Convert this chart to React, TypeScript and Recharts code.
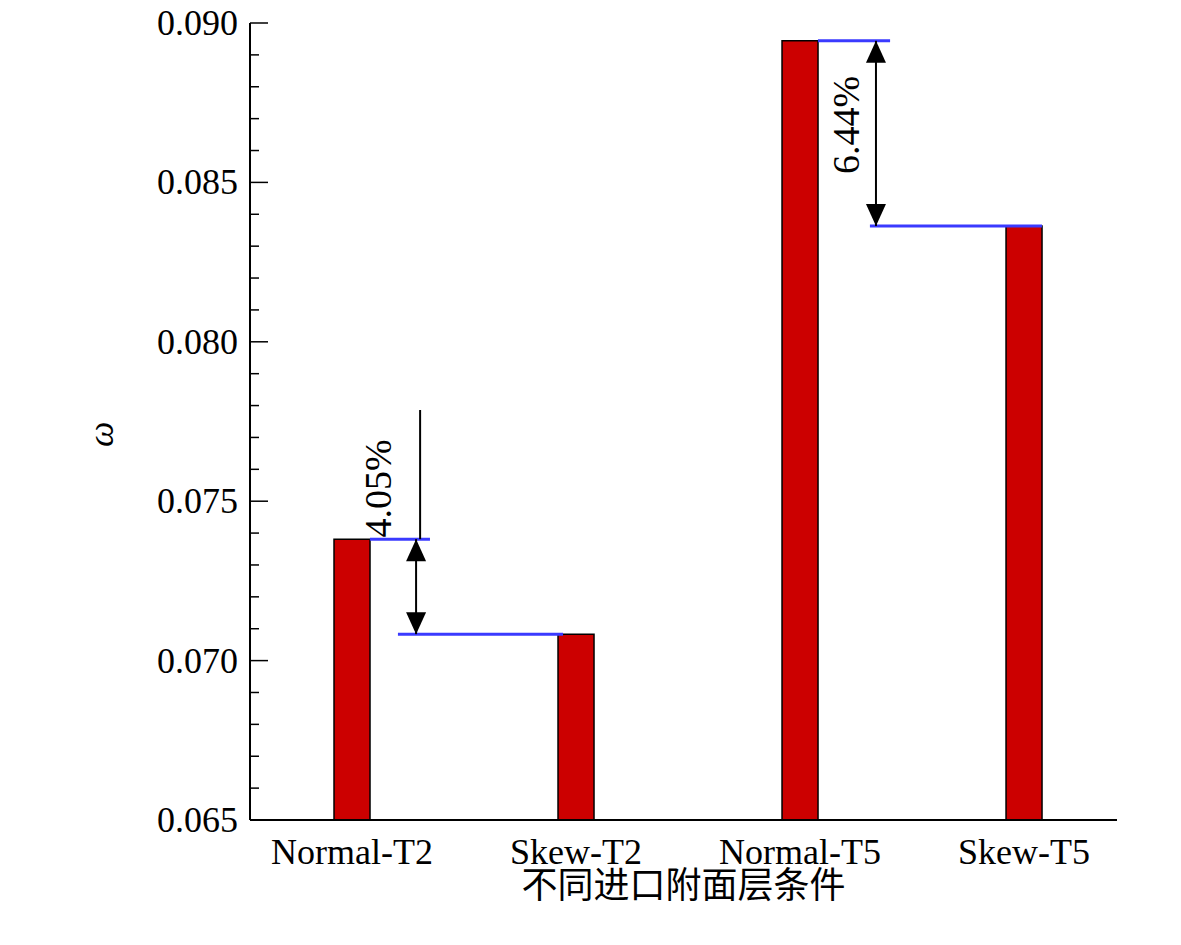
import { Bar, ComposedChart, ReferenceDot, ReferenceLine, XAxis, YAxis, Label } from 'recharts'

const categories = ['Normal-T2', 'Skew-T2', 'Normal-T5', 'Skew-T5']
const positions = [1, 2, 3, 4]
const omega = [0.07381, 0.07083, 0.08944, 0.08363]
const majorTicks = [0.065, 0.07, 0.075, 0.08, 0.085, 0.09]
const minorTicks = [
  0.066, 0.067, 0.068, 0.069, 0.071, 0.072, 0.073, 0.074, 0.076, 0.077, 0.078, 0.079,
  0.081, 0.082, 0.083, 0.084, 0.086, 0.087, 0.088, 0.089,
]
const diffLabels = ['4.05%', '6.44%']

const data = categories.map((name, i) => ({ name, x: positions[i], v: omega[i] }))
const allTicks = [...majorTicks, ...minorTicks].sort((a, b) => a - b)

const FONT = '"Liberation Serif", "DejaVu Serif", serif'
const BLUE = '#3a3aff'

function YTick({ x, y, payload }: any) {
  const major = majorTicks.some((t) => Math.abs(t - payload.value) < 1e-6)
  return (
    <g>
      <line x1={x} x2={x + (major ? 18 : 9)} y1={y} y2={y} stroke="#000" strokeWidth={1.5} />
      {major && (
        <text x={x - 12} y={y} dy={12} textAnchor="end" style={{ fontSize: 36, fontFamily: FONT }} fill="#000">
          {payload.value.toFixed(3)}
        </text>
      )}
    </g>
  )
}

const arrowHead = (dir: 'up' | 'down') => (p: any) => {
  const { cx, cy } = p
  const h = dir === 'up' ? 22 : -22
  return <path d={`M${cx},${cy} L${cx - 10},${cy + h} L${cx + 10},${cy + h} Z`} fill="#000" />
}

const rotText = (text: string) => (p: any) => (
  <text
    transform={`translate(${p.cx},${p.cy}) rotate(-90)`}
    textAnchor="middle"
    style={{ fontSize: 38, fontFamily: FONT }}
    fill="#000"
  >
    {text}
  </text>
)

export default function App() {
  return (
    <div style={{ position: 'absolute', left: 0, top: 0, background: '#fff' }}>
      <ComposedChart width={1181} height={945} data={data} margin={{ top: 23, right: 64, bottom: 95, left: 248 }}>
        <XAxis
          dataKey="x"
          type="number"
          domain={[0.5446, 4.415]}
          ticks={positions}
          interval={0}
          height={30}
          allowDataOverflow
          tickFormatter={(v) => categories[positions.indexOf(v)] ?? ''}
          tickLine={false}
          axisLine={{ stroke: '#000', strokeWidth: 2 }}
          tick={{ fontSize: 36, fontFamily: FONT, fill: '#000' }}
          tickMargin={12}
        >
          <Label
            value="不同进口附面层条件"
            position="bottom"
            offset={22}
            style={{ fontSize: 36, fontFamily: '"Noto Sans CJK SC"', fill: '#000' }}
          />
        </XAxis>
        <YAxis
          type="number"
          domain={[0.065, 0.09]}
          ticks={allTicks}
          interval={0}
          allowDataOverflow
          tickSize={0}
          tickMargin={0}
          tickLine={false}
          width={2}
          axisLine={{ stroke: '#000', strokeWidth: 2 }}
          tick={<YTick />}
        >
          <Label
            value="ω"
            position="left"
            angle={-90}
            offset={148}
            style={{ fontSize: 36, fontFamily: FONT, fontStyle: 'italic', fill: '#000' }}
          />
        </YAxis>
        <Bar dataKey="v" barSize={36} fill="#cc0000" stroke="#000" strokeWidth={1.5} isAnimationActive={false} />

        <ReferenceLine segment={[{ x: 1.08, y: omega[0] }, { x: 1.348, y: omega[0] }]} stroke={BLUE} strokeWidth={3} ifOverflow="visible" />
        <ReferenceLine segment={[{ x: 1.205, y: omega[1] }, { x: 1.942, y: omega[1] }]} stroke={BLUE} strokeWidth={3} ifOverflow="visible" />
        <ReferenceLine segment={[{ x: 3.08, y: omega[2] }, { x: 3.402, y: omega[2] }]} stroke={BLUE} strokeWidth={3} ifOverflow="visible" />
        <ReferenceLine segment={[{ x: 3.312, y: omega[3] }, { x: 4.08, y: omega[3] }]} stroke={BLUE} strokeWidth={3} ifOverflow="visible" />

        <ReferenceLine segment={[{ x: 1.304, y: 0.07786 }, { x: 1.304, y: omega[0] }]} stroke="#000" strokeWidth={2} ifOverflow="visible" />
        <ReferenceLine segment={[{ x: 1.286, y: omega[0] }, { x: 1.286, y: omega[1] }]} stroke="#000" strokeWidth={2} ifOverflow="visible" />
        <ReferenceDot x={1.286} y={omega[0]} shape={arrowHead('up')} ifOverflow="visible" />
        <ReferenceDot x={1.286} y={omega[1]} shape={arrowHead('down')} ifOverflow="visible" />
        <ReferenceDot x={1.175} y={0.0754} shape={rotText(diffLabels[0])} ifOverflow="visible" />

        <ReferenceLine segment={[{ x: 3.339, y: omega[2] }, { x: 3.339, y: omega[3] }]} stroke="#000" strokeWidth={2} ifOverflow="visible" />
        <ReferenceDot x={3.339} y={omega[2]} shape={arrowHead('up')} ifOverflow="visible" />
        <ReferenceDot x={3.339} y={omega[3]} shape={arrowHead('down')} ifOverflow="visible" />
        <ReferenceDot x={3.264} y={0.0868} shape={rotText(diffLabels[1])} ifOverflow="visible" />
      </ComposedChart>
    </div>
  )
}
